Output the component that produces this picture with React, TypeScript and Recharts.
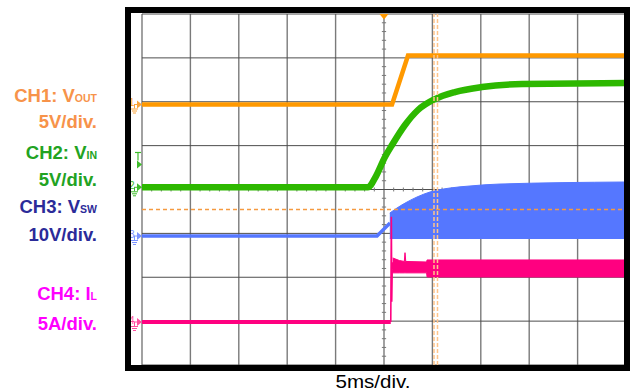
import React from 'react';
import { ComposedChart, Line, Area, XAxis, YAxis, ReferenceLine, ReferenceDot } from 'recharts';

// ---- axis / grid (time in ms: 5 ms/div, trigger at 0; vertical in divisions) ----
const timeGrid = [-25, -20, -15, -10, -5, 0, 5, 10, 15, 20, 25];
const divGrid = [-4, -3, -2, -1, 0, 1, 2, 3, 4];

// ---- channel settings ----
const chScale = [5, 5, 10, 5]; // units per division
const chOffset = [1.937, 0.05, -1.06, -3.02]; // ground position, divisions
const chNames = ['CH1: V', 'CH2: V', 'CH3: V', 'CH4: I'];
const chSubs = ['OUT', 'IN', 'SW', 'L'];
const chScaleText = ['5V/div.', '5V/div.', '10V/div.', '5A/div.'];
const timeBaseText = '5ms/div.';

// ---- CH1: VOUT (V) ----
const ch1Time = [-25, 0.83, 2.48, 25];
const ch1Vout = [0, 0, 5.58, 5.58];

// ---- CH2: VIN (V) ----
const ch2Time = [-25, -1.65, -0.93, 0.1, 0.83, 2.17, 3.51, 5.27, 7.33, 10.12, 14.26, 25];
const ch2Vin = [0, 0, 1.06, 3.45, 4.82, 7.1, 8.81, 10.06, 10.86, 11.43, 11.77, 11.88];

// ---- CH3: VSW (V) ----
const ch3Time = [-25, -0.72, 0.62];
const ch3Vsw = [0, 0, 2.96];
const ch3BandTime = [0.6, 1.34, 2.38, 3.41, 4.75, 6.82, 8.88, 11.98, 25];
const ch3BandLow = [-0.57, -0.57, -0.57, -0.57, -0.57, -0.57, -0.57, -0.57, -0.57];
const ch3BandHigh = [5.24, 6.38, 7.75, 8.89, 10.03, 10.94, 11.4, 11.85, 12.31];

// ---- CH4: IL (A) ----
const ch4Time = [-25, 0.7];
const ch4Il = [0, 0];
const ch4SpikeTime = [0.7, 0.76, 0.8, 0.86, 0.92];
const ch4SpikeIl = [0, 12.0, 2.3, 6.8, 6.0];
const ch4BandTime = [0.9, 1.6, 2.1, 2.17, 2.25, 4.4, 4.45, 25];
const ch4BandLow = [5.6, 5.6, 5.6, 5.6, 5.6, 5.6, 5.13, 5.13];
const ch4BandHigh = [7.3, 7.0, 6.9, 7.9, 6.9, 6.84, 7.07, 7.07];

// ---- markers / cursors ----
const triggerLevelCh2 = 2.6; // V
const refLevelDiv = -0.456;
const cursorTimes = [5.165, 5.527];
const markerTime = -25.62;

const toDiv = (ch: number, v: number) => chOffset[ch] + v / chScale[ch];
const lineData = (ch: number, ts: number[], vs: number[]) => ts.map((t, i) => ({ t, y: toDiv(ch, vs[i]) }));
const bandData = (ch: number, ts: number[], lo: number[], hi: number[]) =>
  ts.map((t, i) => ({ t, r: [toDiv(ch, lo[i]), toDiv(ch, hi[i])] }));

const ch1Data = lineData(0, ch1Time, ch1Vout);
const ch2Data = lineData(1, ch2Time, ch2Vin);
const ch3Data = lineData(2, ch3Time, ch3Vsw);
const ch3Band = bandData(2, ch3BandTime, ch3BandLow, ch3BandHigh);
const ch4Data = lineData(3, ch4Time, ch4Il);
const ch4Spike = lineData(3, ch4SpikeTime, ch4SpikeIl);
const ch4BandD = bandData(3, ch4BandTime, ch4BandLow, ch4BandHigh);

const traceColors = ['#FF9900', '#2DB800', '#5577FF', '#FF0080'];
const markerColors = ['#F9A43A', '#3DBB2A', '#7B93FF', '#FF4FA0'];
const labelColors = ['#F7934A', '#22A322', '#2B2B99', '#FF00FF'];

const FONT = '"Liberation Sans", Arial, Helvetica, sans-serif';

const W = 630;
const H = 392;

const makeMarker = (ch: number) => (p: any) => {
  const cx = p.cx, cy = p.cy;
  const c = markerColors[ch];
  return (
    <g>
      <text x={cx - 1.5} y={cy + 1.5} fontSize={10} fill={c} textAnchor="end" fontFamily={FONT}>{ch + 1}</text>
      <line x1={cx - 2} y1={cy} x2={cx + 1} y2={cy} stroke={c} strokeWidth={1} />
      <polygon points={`${cx + 1},${cy - 4} ${cx + 6},${cy} ${cx + 1},${cy + 4}`} fill={c} />
      <line x1={cx - 1.5} y1={cy} x2={cx - 1.5} y2={cy + 4} stroke={c} strokeWidth={1} />
      <line x1={cx - 5} y1={cy + 4.5} x2={cx + 2} y2={cy + 4.5} stroke={c} strokeWidth={1} />
      <line x1={cx - 4} y1={cy + 6.5} x2={cx + 1} y2={cy + 6.5} stroke={c} strokeWidth={1} />
      <line x1={cx - 3} y1={cy + 8.5} x2={cx} y2={cy + 8.5} stroke={c} strokeWidth={1} />
    </g>
  );
};

const TrigMarker = (p: any) => {
  const cx = p.cx, cy = p.cy;
  const c = markerColors[1];
  return (
    <g>
      <line x1={cx - 1} y1={cy - 12} x2={cx + 5} y2={cy - 12} stroke={c} strokeWidth={1.2} />
      <line x1={cx + 2} y1={cy - 12} x2={cx + 2} y2={cy - 4} stroke={c} strokeWidth={1.2} />
      <polygon points={`${cx + 1},${cy - 4} ${cx + 6},${cy} ${cx + 1},${cy + 4}`} fill={c} />
    </g>
  );
};

const TopTrig = (p: any) => {
  const cx = p.cx, cy = p.cy;
  return <polygon points={`${cx - 4.5},${cy} ${cx + 4.5},${cy} ${cx},${cy + 5.5}`} fill="#FF9900" />;
};

const minorV: number[] = [];
for (let k = 1; k < 40; k++) if (k % 5 !== 0) minorV.push(-4 + k * 0.2);
const minorH: number[] = [];
for (let k = 1; k < 50; k++) if (k % 5 !== 0) minorH.push(-25 + k);

export default function App() {
  const nameY = [102, 159, 213, 300];
  const scaleY = [128, 186, 241, 330];
  const gridZ: any = { zIndex: -50 };
  return (
    <div style={{ position: 'absolute', left: 0, top: 0, width: W, height: H, background: '#fff', overflow: 'hidden' }}>
      <ComposedChart width={W} height={H} margin={{ top: 14, right: 4, bottom: 27, left: 131 }}>
        <XAxis type="number" dataKey="t" domain={[-26.136, 25]} hide allowDataOverflow />
        <YAxis type="number" domain={[-4, 4]} hide allowDataOverflow />
        {timeGrid.map((t) => (
          <ReferenceLine key={'v' + t} {...gridZ} segment={[{ x: t, y: -4 }, { x: t, y: 4 }]} stroke="#7a7a7a" strokeWidth={1.4} />
        ))}
        {divGrid.map((d) => (
          <ReferenceLine key={'h' + d} {...gridZ} segment={[{ x: -25, y: d }, { x: 25, y: d }]} stroke="#4d4d4d" strokeWidth={1} />
        ))}
        {minorV.map((d) => (
          <ReferenceLine key={'mv' + d} {...gridZ} segment={[{ x: -0.22, y: d }, { x: 0.22, y: d }]} stroke="#777" strokeWidth={1} />
        ))}
        {minorH.map((t) => (
          <ReferenceLine key={'mh' + t} {...gridZ} segment={[{ x: t, y: -0.045 }, { x: t, y: 0.045 }]} stroke="#777" strokeWidth={1} />
        ))}
        <Line data={ch1Data} dataKey="y" type="linear" stroke={traceColors[0]} strokeWidth={4.5} dot={false} activeDot={false} isAnimationActive={false} />
        <Line data={ch2Data} dataKey="y" type="monotone" stroke={traceColors[1]} strokeWidth={6.5} dot={false} activeDot={false} isAnimationActive={false} />
        <Line data={ch3Data} dataKey="y" type="linear" stroke={traceColors[2]} strokeWidth={3.5} dot={false} activeDot={false} isAnimationActive={false} />
        <Area data={ch3Band} dataKey="r" type="monotone" stroke={traceColors[2]} strokeWidth={1} fill={traceColors[2]} fillOpacity={1} dot={false} activeDot={false} isAnimationActive={false} />
        <Area data={ch4BandD} dataKey="r" type="linear" stroke={traceColors[3]} strokeWidth={1} fill={traceColors[3]} fillOpacity={1} dot={false} activeDot={false} isAnimationActive={false} />
        <Line data={ch4Data} dataKey="y" type="linear" stroke={traceColors[3]} strokeWidth={4} dot={false} activeDot={false} isAnimationActive={false} />
        <Line data={ch4Spike} dataKey="y" type="linear" stroke={traceColors[3]} strokeWidth={1.6} dot={false} activeDot={false} isAnimationActive={false} />
        <ReferenceLine segment={[{ x: -25, y: refLevelDiv }, { x: 25, y: refLevelDiv }]} stroke="#F59A40" strokeWidth={1.3} strokeDasharray="4 3" />
        {cursorTimes.map((t) => (
          <ReferenceLine key={'c' + t} segment={[{ x: t, y: -4 }, { x: t, y: 4 }]} stroke="#FFC48A" strokeWidth={1.5} strokeDasharray="4 2" />
        ))}
        {[0, 1, 2, 3].map((ch) => (
          <ReferenceDot key={'m' + ch} x={markerTime} y={chOffset[ch]} r={3} shape={makeMarker(ch)} ifOverflow="visible" />
        ))}
        <ReferenceDot x={markerTime} y={toDiv(1, triggerLevelCh2)} r={3} shape={TrigMarker} ifOverflow="visible" />
        <ReferenceDot x={0} y={4} r={3} shape={TopTrig} ifOverflow="visible" />
      </ComposedChart>
      <div style={{ position: 'absolute', left: 125, top: 7, width: 505, height: 364, border: '6px solid #000', boxSizing: 'border-box', pointerEvents: 'none' }} />
      <svg width={W} height={H} style={{ position: 'absolute', left: 0, top: 0, pointerEvents: 'none' }}>
        {[0, 1, 2, 3].map((ch) => (
          <g key={ch} fontFamily={FONT} fontWeight="bold" fill={labelColors[ch]}>
            <text x={97} y={nameY[ch]} textAnchor="end" fontSize={18.5}>
              {chNames[ch]}
              <tspan fontSize={10.5}>{chSubs[ch]}</tspan>
            </text>
            <text x={97} y={scaleY[ch]} textAnchor="end" fontSize={18.5}>{chScaleText[ch]}</text>
          </g>
        ))}
        <text x={373} y={388} textAnchor="middle" fontSize={19} textLength={75} lengthAdjust="spacingAndGlyphs" fontFamily={FONT} fill="#000">{timeBaseText}</text>
      </svg>
    </div>
  );
}
